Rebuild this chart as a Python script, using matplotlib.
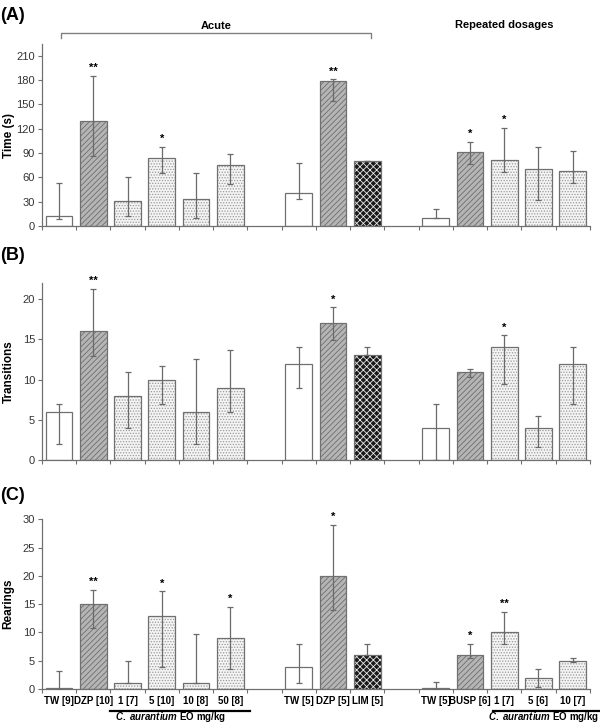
import numpy as np
import matplotlib
matplotlib.use("Agg")
import matplotlib.pyplot as plt

plt.rcParams['font.family'] = ['Liberation Sans', 'DejaVu Sans']
plt.rcParams['mathtext.fontset'] = 'custom'
plt.rcParams['mathtext.it'] = 'Liberation Sans:bold:italic'
plt.rcParams['mathtext.rm'] = 'Liberation Sans:bold'
plt.rcParams['hatch.linewidth'] = 0.6

nan = np.nan

# categories (blank = gap between groups)
labels = ['TW [9]', 'DZP [10]', '1 [7]', '5 [10]', '10 [8]', '50 [8]', '',
          'TW [5]', 'DZP [5]', 'LIM [5]', '',
          'TW [5]', 'BUSP [6]', '1 [7]', '5 [6]', '10 [7]']
groups = ['tw', 'dzp', 'eo', 'eo', 'eo', 'eo', None,
          'tw', 'dzp', 'lim', None,
          'tw', 'dzp', 'eo', 'eo', 'eo']

# (A) time in open arms
time_val = [13, 129, 31, 84, 34, 75, nan, 41, 179, 80, nan, 10, 91, 81, 70, 68]
time_lo = [9, 86, 13, 65, 10, 52, nan, 34, 154, 80, nan, 10, 77, 67, 32, 53]
time_hi = [53, 185, 61, 98, 65, 89, nan, 78, 181, 80, nan, 21, 104, 121, 98, 93]
time_star = ['', '**', '', '*', '', '', '', '', '**', '', '', '', '*', '*', '', '']

# (B) transitions
trans_val = [6, 16, 8, 10, 6, 9, nan, 12, 17, 13, nan, 4, 11, 14, 4, 12]
trans_lo = [2, 12.9, 4, 7, 2, 6, nan, 9, 14.9, 13, nan, 0, 10.3, 9.4, 1.6, 7]
trans_hi = [7, 21.3, 11, 11.7, 12.6, 13.7, nan, 14, 19, 14, nan, 7, 11.3, 15.5, 5.5, 14]
trans_star = ['', '**', '', '', '', '', '', '', '*', '', '', '', '', '*', '', '']

# (C) rearings
rear_val = [0.1, 15, 1, 12.9, 1, 9, nan, 3.9, 19.9, 6, nan, 0.2, 6, 10, 2, 5]
rear_lo = [0, 10.8, 1, 3.9, 1, 3.5, nan, 1, 14, 6, nan, 0, 5.4, 8, 0.4, 4.7]
rear_hi = [3.2, 17.5, 5, 17.3, 9.8, 14.5, nan, 8, 29, 8, nan, 1.3, 8, 13.6, 3.5, 5.4]
rear_star = ['', '**', '', '*', '', '*', '', '', '*', '', '', '', '*', '**', '', '']

styles = {
    'tw': dict(fc='white', hatch=None, hc='white'),
    'dzp': dict(fc='#b5b5b5', hatch='//////', hc='#6e6e6e'),
    'eo': dict(fc='#f4f4f4', hatch='......', hc='#9a9a9a'),
    'lim': dict(fc='#1a1a1a', hatch='xxxxx', hc='#e8e8e8'),
}

x = np.arange(len(labels))
edge = '#707070'
errc = '#6a6a6a'


def panel(ax, val, lo, hi, stars, ylab, ymax, ticks):
    for i, g in enumerate(groups):
        if g is None:
            continue
        st = styles[g]
        ax.bar(x[i], val[i], width=0.78, color=st['fc'], hatch=st['hatch'],
               edgecolor=st['hc'], linewidth=0, zorder=2)
        ax.bar(x[i], val[i], width=0.78, fill=False, edgecolor=edge,
               linewidth=0.9, zorder=3)
        ax.errorbar(x[i], val[i],
                    yerr=[[val[i] - lo[i]], [hi[i] - val[i]]],
                    fmt='none', ecolor=errc, elinewidth=0.9, capsize=2,
                    capthick=0.9, zorder=4)
        if stars[i]:
            ax.annotate(stars[i], (x[i], hi[i]), xytext=(0, 2),
                        textcoords='offset points', ha='center', va='bottom',
                        fontsize=8, fontweight='bold')
    ax.set_xlim(-0.5, len(labels) - 0.5)
    ax.set_ylim(0, ymax)
    ax.set_yticks(ticks)
    ax.set_xticks(np.arange(len(labels) + 1) - 0.5)
    ax.set_xticklabels([])
    ax.tick_params(axis='x', length=3, color=edge, direction='out')
    ax.tick_params(axis='y', length=3, color=edge, labelsize=8,
                   labelcolor='#333333', pad=2)
    for s in ['top', 'right']:
        ax.spines[s].set_visible(False)
    for s in ['left', 'bottom']:
        ax.spines[s].set_color(edge)
        ax.spines[s].set_linewidth(0.9)
    ax.set_ylabel(ylab, fontsize=8.5, fontweight='bold')
    ax.yaxis.set_label_coords(-0.05, 0.5)


fig = plt.figure(figsize=(6, 7.25), dpi=100)
axA = fig.add_axes([0.07, 0.688, 0.913, 0.251])
axB = fig.add_axes([0.07, 0.3655, 0.913, 0.244])
axC = fig.add_axes([0.07, 0.0497, 0.913, 0.234])

panel(axA, time_val, time_lo, time_hi, time_star, 'Time (s)', 224, np.arange(0, 211, 30))
panel(axB, trans_val, trans_lo, trans_hi, trans_star, 'Transitions', 22, np.arange(0, 21, 5))
panel(axC, rear_val, rear_lo, rear_hi, rear_star, 'Rearings', 30, np.arange(0, 31, 5))

# bottom category labels
tr = axC.get_xaxis_transform()
for i, lab in enumerate(labels):
    axC.text(x[i], -0.068, lab, transform=tr, ha='center', va='center',
             fontsize=7, fontweight='bold')
# C. aurantium underlines
for x0, x1, xc in [(1.5, 5.57, 3.25), (12.67, 15.85, 14.15)]:
    axC.plot([x0, x1], [-0.13, -0.13], transform=tr, color='black', lw=1.6,
             clip_on=False)
    axC.text(xc, -0.165, r'$\it{C.\ aurantium}$ EO mg/kg', transform=tr,
             ha='center', va='center', fontsize=7, fontweight='bold')

# Acute bracket
trA = axA.get_xaxis_transform()
axA.plot([0.05, 0.05, 9.1, 9.1], [1.033, 1.06, 1.06, 1.033], transform=trA,
         color='#808080', lw=1, clip_on=False)
axA.text(4.58, 1.1, 'Acute', transform=trA, ha='center', va='center',
         fontsize=8, fontweight='bold')
axA.text(13.0, 1.105, 'Repeated dosages', transform=trA, ha='center',
         va='center', fontsize=8, fontweight='bold')

for lab, yy in [('(A)', 15), ('(B)', 255), ('(C)', 495)]:
    fig.text(0.0, 1 - yy / 725, lab, fontsize=13, fontweight='bold',
             ha='left', va='center')

fig.savefig('out.png', dpi=100)
